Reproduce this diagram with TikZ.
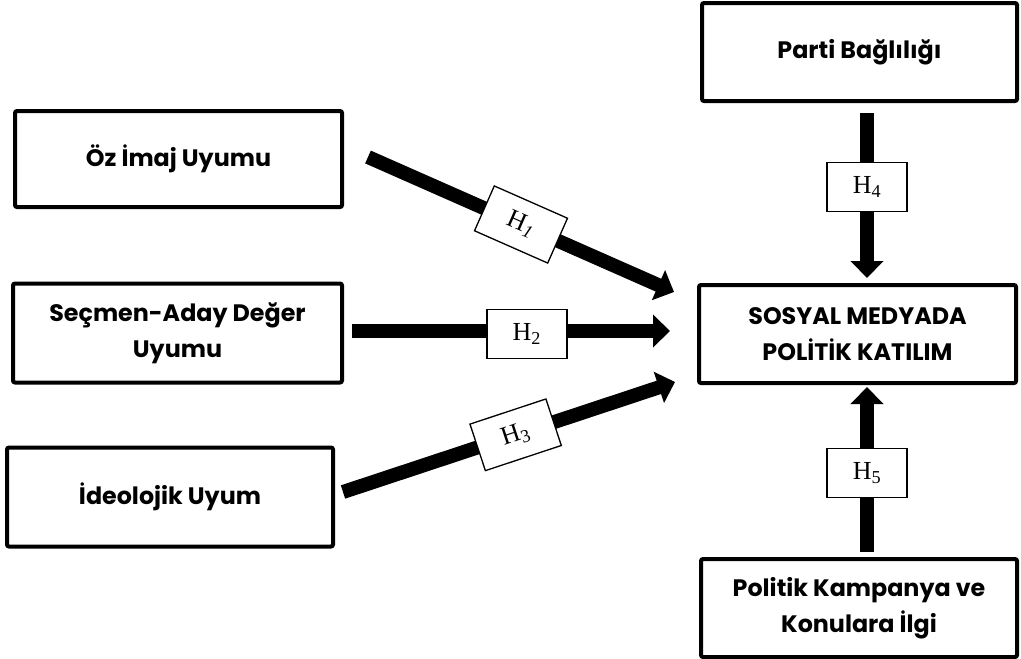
\documentclass[tikz,border=0pt]{standalone}
\usepackage{fontspec}
\setmainfont{Poppins}[BoldFont={Poppins Bold}]
\newfontfamily\hfont{Liberation Serif}
\usetikzlibrary{arrows.meta}
\tikzset{
  box/.style={draw, line width=4pt, rounded corners=2pt, align=center, inner sep=0pt,
    font=\fontsize{23.8}{36.5}\selectfont\bfseries, fill=white},
  hbox/.style={draw, line width=1.3pt, fill=white, inner sep=0pt, minimum width=80pt, minimum height=49pt,
    font=\hfont\fontsize{26}{30}\selectfont},
  bigarrow/.style={line width=14pt, -{Triangle[width=32pt,length=17pt]}}
}
\begin{document}
\begin{tikzpicture}[x=1pt,y=-1pt]
\useasboundingbox (0,0) rectangle (1021,659);
% boxes
\node[box, minimum width=327pt, minimum height=96pt] (oz) at (178.5,159) {Öz İmaj Uyumu};
\node[box, minimum width=329pt, minimum height=99pt] (sec) at (177.5,333) {Seçmen-Aday Değer\\Uyumu};
\node[box, minimum width=326pt, minimum height=99pt] (ideo) at (170,497) {İdeolojik Uyum};
\node[box, minimum width=315pt, minimum height=98pt] (parti) at (859.5,52) {Parti Bağlılığı};
\node[box, minimum width=317pt, minimum height=98pt] (spk) at (857.5,334) {SOSYAL MEDYADA\\POLİTİK KATILIM};
\node[box, minimum width=316pt, minimum height=98pt] (pk) at (859,608) {Politik Kampanya ve\\Konulara İlgi};
% arrow ends
\coordinate (a1s) at (368,157); \coordinate (a1e) at (674,292);
\coordinate (a2s) at (352,331); \coordinate (a2e) at (670,331);
\coordinate (a3s) at (343,492); \coordinate (a3e) at (675,382);
\coordinate (a4s) at (867,113); \coordinate (a4e) at (867,278);
\coordinate (a5s) at (867,552); \coordinate (a5e) at (867,387);
% arrows
\draw[bigarrow] (a1s) -- node[hbox, sloped, pos=0.5] (h1) {H\textsubscript{\itshape 1}} (a1e);
\draw[bigarrow] (a2s) -- node[hbox, pos=0.55, yshift=-3pt] (h2) {H\textsubscript{2}} (a2e);
\draw[bigarrow] (a3s) -- node[hbox, sloped, pos=0.52] (h3) {H\textsubscript{3}} (a3e);
\draw[bigarrow] (a4s) -- node[hbox, pos=0.45] (h4) {H\textsubscript{4}} (a4e);
\draw[bigarrow] (a5s) -- node[hbox, pos=0.48] (h5) {H\textsubscript{5}} (a5e);
\end{tikzpicture}
\end{document}
